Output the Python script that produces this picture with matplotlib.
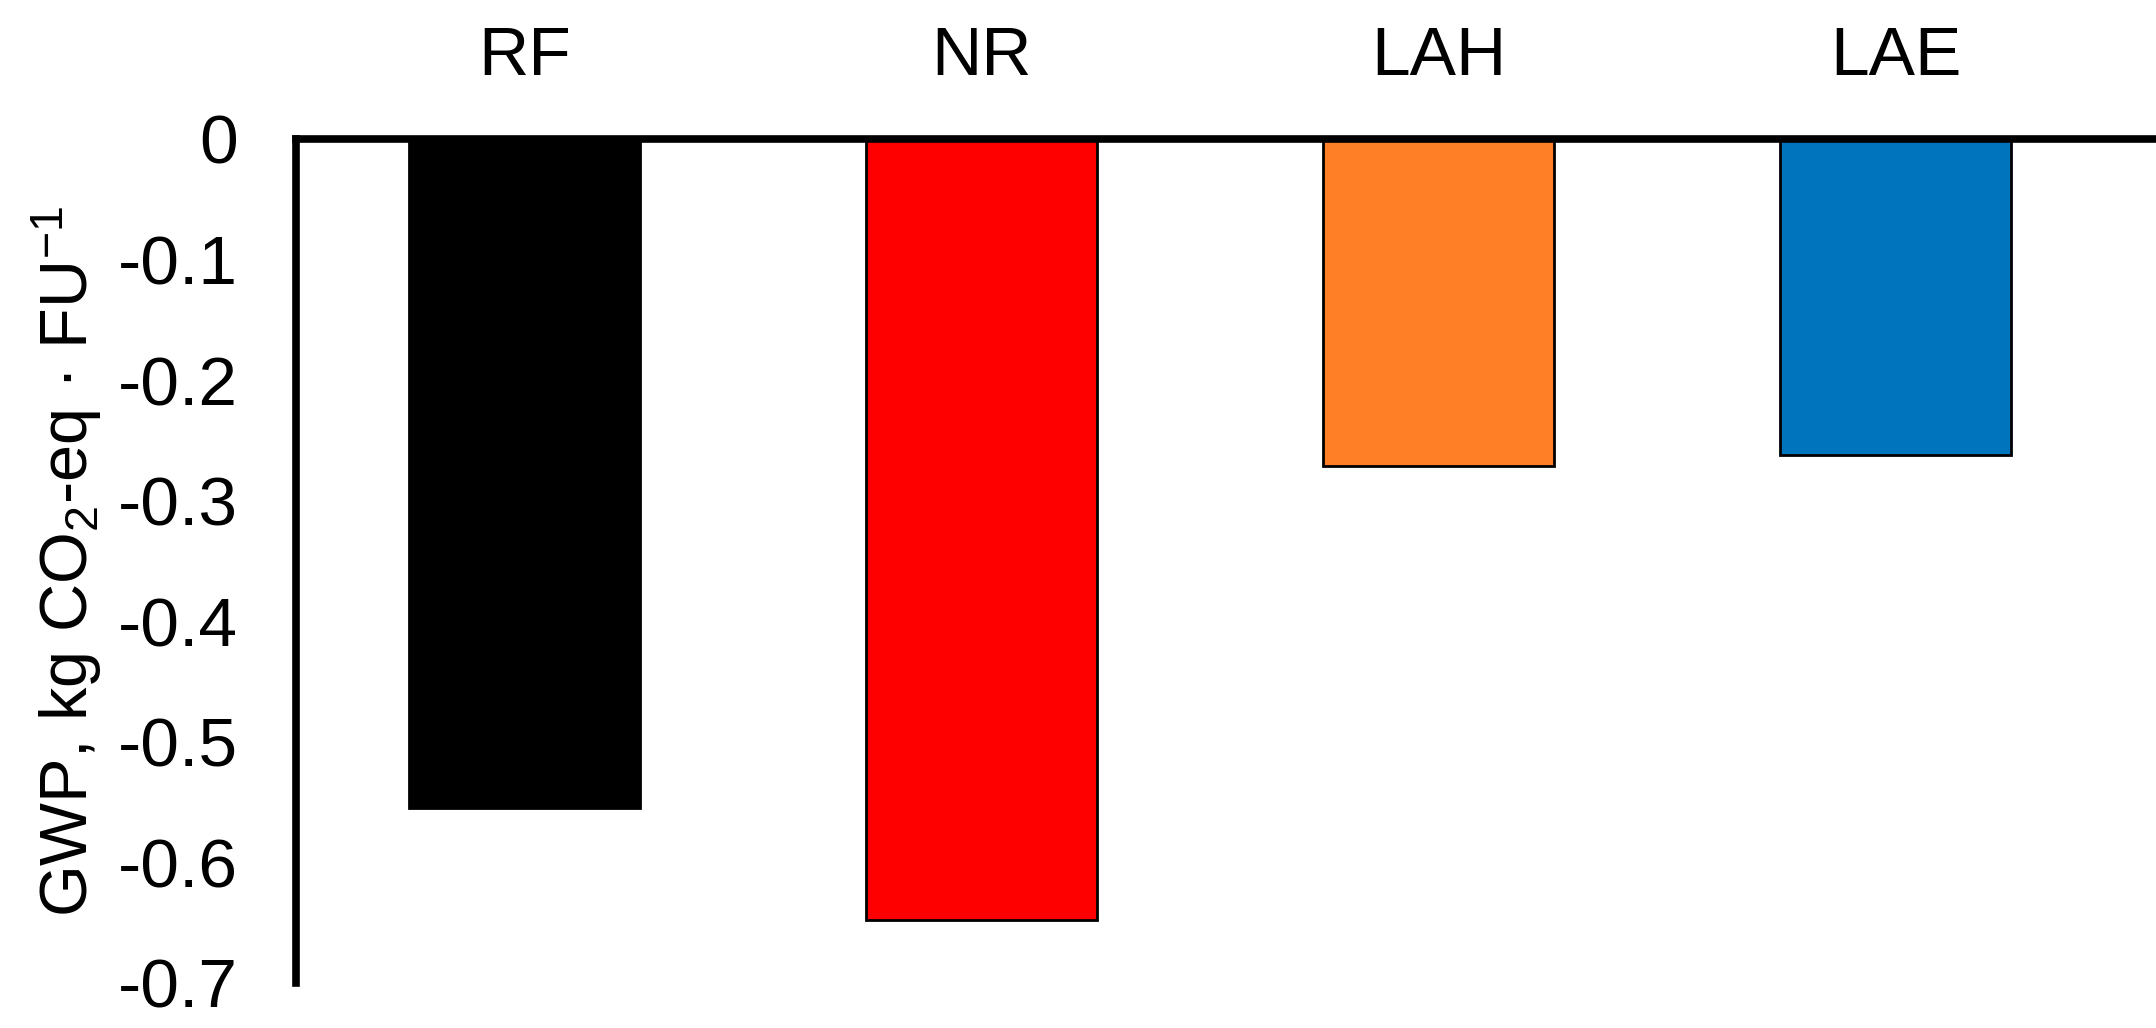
import matplotlib
matplotlib.use("Agg")
import matplotlib.pyplot as plt

# datos
categorias = ["RF", "NR", "LAH", "LAE"]
gwp = [-0.555, -0.648, -0.271, -0.262]
colores = ["#000000", "#FF0000", "#FF7F27", "#0075BD"]
yticks = [0, -0.1, -0.2, -0.3, -0.4, -0.5, -0.6, -0.7]

plt.rcParams['font.family'] = ['Liberation Sans', 'DejaVu Sans']
plt.rcParams['mathtext.default'] = 'regular'

fig = plt.figure(figsize=(21.56, 10.28), dpi=100)
ax = fig.add_axes([0.1373, 0.0438, 0.8627, 0.821])

x = range(len(categorias))
ax.bar(x, gwp, width=0.506, color=colores, edgecolor="black", linewidth=2)

ax.set_xlim(-0.5, 3.57)
ax.set_ylim(-0.7, 0)
ax.set_yticks(yticks)
ax.set_yticklabels(["0" if v == 0 else "%.1f" % v for v in yticks])

ax.xaxis.tick_top()
ax.set_xticks(list(x))
ax.set_xticklabels(categorias)
ax.tick_params(axis='x', length=0, pad=36, labelsize=50)
ax.tick_params(axis='y', length=0, pad=42, labelsize=50)

for lado in ["right", "bottom"]:
    ax.spines[lado].set_visible(False)
for lado in ["left", "top"]:
    ax.spines[lado].set_linewidth(5.5)

ax.set_ylabel(r"GWP, kg CO$_2$-eq · FU$^{-1}$", fontsize=48, labelpad=10)

fig.savefig("out.png", dpi=100)
